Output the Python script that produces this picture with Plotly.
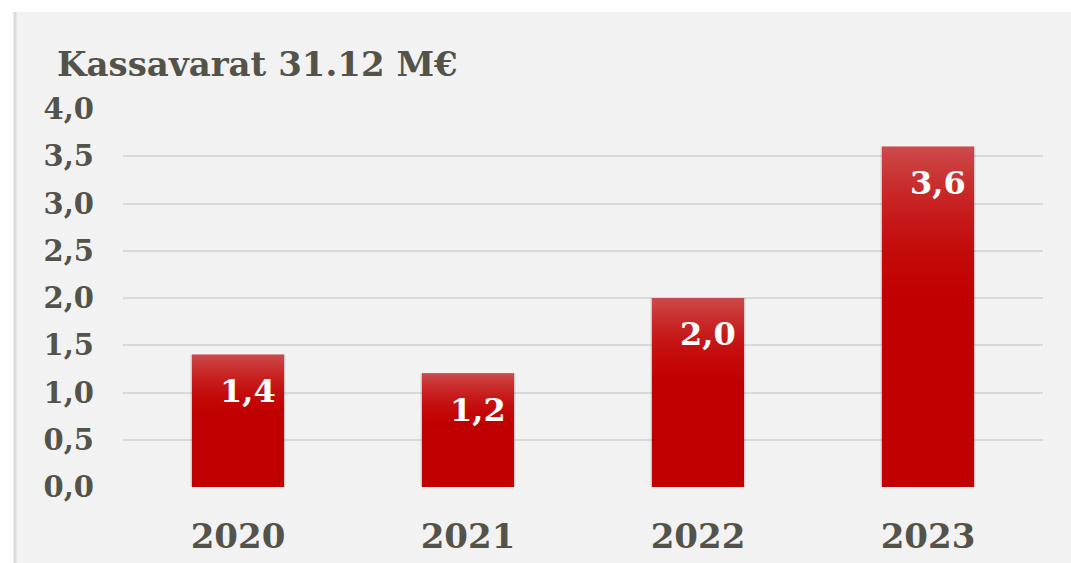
import plotly.graph_objects as go

years = ["2020", "2021", "2022", "2023"]
cash = [1.4, 1.2, 2.0, 3.6]
value_labels = ["1,4", "1,2", "2,0", "3,6"]
y_ticks = [0.0, 0.5, 1.0, 1.5, 2.0, 2.5, 3.0, 3.5, 4.0]
y_tick_labels = ["0,0", "0,5", "1,0", "1,5", "2,0", "2,5", "3,0", "3,5", "4,0"]

TEXT = "#53534a"
FONT = "DejaVu Serif"
W, H = 1071, 563
L, R, T, B = 123, 28, 109, 76
PANEL_X0, PANEL_Y0 = 15, 12
BAR_W = 0.4

idx = list(range(len(years)))
pw, ph = W - L - R, H - T - B
px0 = -(L - PANEL_X0) / pw
py1 = 1 + (T - PANEL_Y0) / ph

fig = go.Figure()

# soft shadow behind bars
fig.add_trace(go.Bar(
    x=idx, y=[v + 0.03 for v in cash], base=-0.03, width=BAR_W + 0.012,
    marker=dict(color="rgba(0,0,0,0.16)", line=dict(width=0)),
    hoverinfo="skip", showlegend=False,
))
fig.add_trace(go.Bar(
    x=idx, y=cash, width=BAR_W,
    marker=dict(color="#c00000", line=dict(width=0)),
    showlegend=False,
))

# lighter gradient on the upper half of each bar
for i, v in zip(idx, cash):
    fig.add_trace(go.Scatter(
        x=[i - BAR_W / 2, i - BAR_W / 2, i + BAR_W / 2, i + BAR_W / 2, i - BAR_W / 2],
        y=[v * 0.5, v, v, v * 0.5, v * 0.5],
        mode="lines", line=dict(width=0), fill="toself",
        fillgradient=dict(type="vertical",
                          colorscale=[[0, "rgba(200,0,0,0)"], [1, "rgba(205,75,75,1)"]]),
        hoverinfo="skip", showlegend=False,
    ))

for i, v, lab in zip(idx, cash, value_labels):
    fig.add_annotation(
        x=i, y=v, text=lab, showarrow=False, xshift=10, yshift=-36,
        font=dict(family=FONT, size=32, color="white", weight="bold"),
    )

fig.update_layout(
    width=W, height=H,
    margin=dict(l=L, r=R, t=T, b=B),
    paper_bgcolor="#f2f2f2", plot_bgcolor="#f2f2f2",
    bargap=0.6, barmode="overlay",
    title=dict(
        text="Kassavarat 31.12 M€", x=57 / W, xanchor="left", xref="container",
        y=1 - 64 / H, yanchor="middle", yref="container",
        font=dict(family=FONT, size=34, color=TEXT, weight="bold"),
    ),
    xaxis=dict(
        range=[-0.5, 3.5], tickvals=idx, ticktext=years, showgrid=False,
        zeroline=False, showline=False, ticks="", automargin=False,
        tickfont=dict(family=FONT, size=34, color=TEXT, weight="bold"),
        ticklabelstandoff=26,
    ),
    yaxis=dict(
        range=[0, 4.0], tickvals=y_ticks, ticktext=y_tick_labels,
        showgrid=True, gridcolor="#d9d9d9", gridwidth=2,
        zeroline=False, showline=False, ticks="", automargin=False,
        tickfont=dict(family=FONT, size=29, color=TEXT, weight="bold"),
        ticklabelstandoff=28,
    ),
    shapes=[
        # white page strip above and left of the grey panel
        dict(type="rect", xref="paper", yref="paper", layer="below",
             x0=-L / pw - 0.02, x1=1 + R / pw + 0.02, y0=py1, y1=1 + T / ph + 0.02,
             fillcolor="white", line=dict(width=0)),
        dict(type="rect", xref="paper", yref="paper", layer="below",
             x0=-L / pw - 0.02, x1=px0, y0=-B / ph - 0.02, y1=1 + T / ph + 0.02,
             fillcolor="white", line=dict(width=0)),
        dict(type="line", xref="paper", yref="paper", layer="below",
             x0=px0, x1=px0, y0=-B / ph - 0.02, y1=py1,
             line=dict(color="#dcdcdc", width=3)),
    ],
)

# drop the default page margin so the figure fills the window exactly
fig.write_html(
    "out.html",
    config={"displayModeBar": False},
    post_script="document.body.style.margin='0';document.body.style.overflow='hidden';",
)
